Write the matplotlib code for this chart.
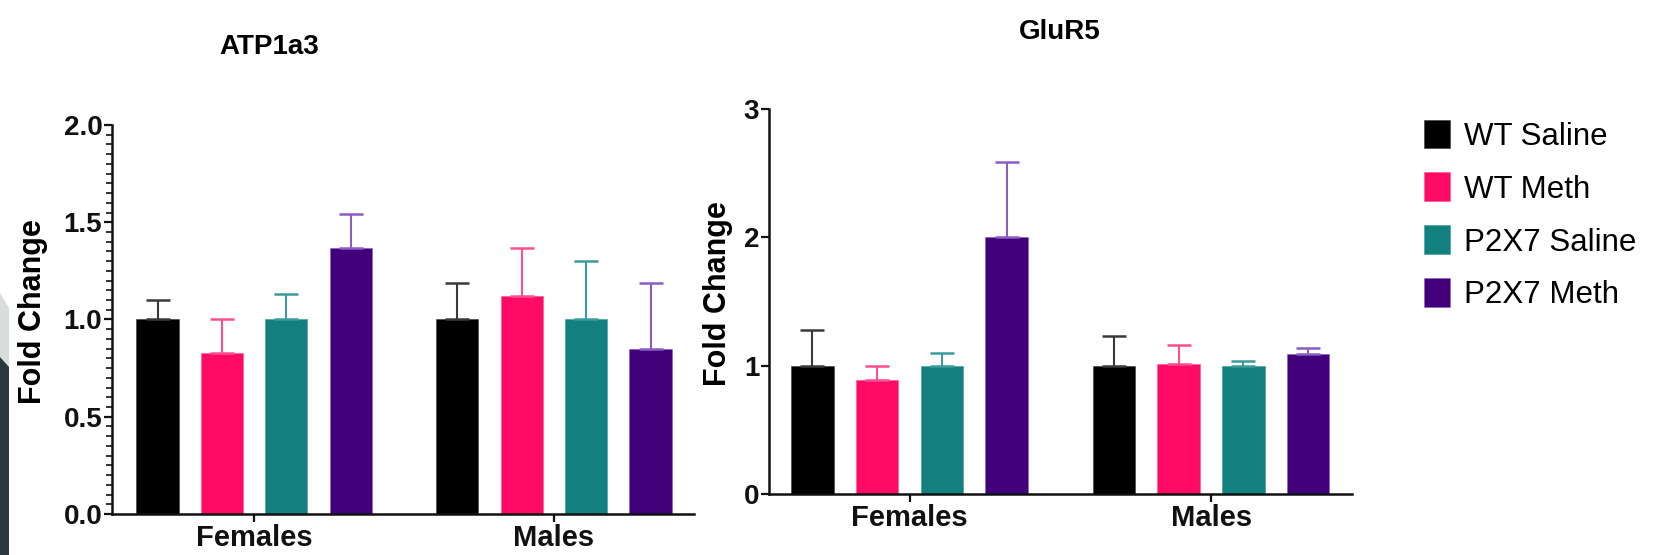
import matplotlib
matplotlib.use("Agg")
import matplotlib.pyplot as plt
from matplotlib.patches import Patch, Polygon
from matplotlib.ticker import MultipleLocator
import numpy as np

# -- Data -------------------------------------------------------------------
groups = ["Females", "Males"]
conditions = ["WT Saline", "WT Meth", "P2X7 Saline", "P2X7 Meth"]
bar_colors = ["#000000", "#ff0a64", "#11807f", "#41007a"]
err_colors = ["#3a3a3a", "#ff4f8e", "#3a9c9a", "#8a5cc4"]

atp_mean = [[1.00, 0.83, 1.00, 1.37],   # Females
            [1.00, 1.12, 1.00, 0.85]]   # Males
atp_top = [[1.10, 1.00, 1.13, 1.54],
           [1.19, 1.37, 1.30, 1.19]]

glu_mean = [[1.00, 0.89, 1.00, 2.00],
            [1.00, 1.01, 1.00, 1.09]]
glu_top = [[1.28, 1.00, 1.10, 2.59],
           [1.23, 1.16, 1.04, 1.14]]

FONT = ["Liberation Sans", "DejaVu Sans"]
plt.rcParams["font.family"] = FONT

fig = plt.figure(figsize=(16.54, 5.55), dpi=100)

group_pos = np.array([0.0, 4.655])
offsets = np.array([-1.5, -0.5, 0.5, 1.5])
width = 0.655


def draw_panel(ax, means, tops, ymax, yticks, ylabels, xlim, label_x, minor=None):
    for g in range(len(groups)):
        for c in range(len(conditions)):
            x = group_pos[g] + offsets[c]
            m = means[g][c]
            ax.bar(x, m, width=width, color=bar_colors[c],
                   edgecolor=err_colors[c], linewidth=0.4, zorder=2)
            ax.errorbar(x, m, yerr=[[0], [tops[g][c] - m]], fmt="none",
                        ecolor=err_colors[c], elinewidth=1.5, capsize=8.3,
                        capthick=1.8, zorder=3)
    ax.set_xlim(*xlim)
    ax.set_ylim(0, ymax)
    ax.set_yticks(yticks)
    ax.set_yticklabels(ylabels)
    if minor:
        ax.yaxis.set_minor_locator(MultipleLocator(minor))
    ax.set_xticks(group_pos)
    ax.set_xticklabels(groups)
    for s in ["top", "right"]:
        ax.spines[s].set_visible(False)
    for s in ["left", "bottom"]:
        ax.spines[s].set_linewidth(1.8)
        ax.spines[s].set_color("#111111")
    ax.tick_params(axis="both", which="major", length=6, width=1.6,
                   labelsize=20, pad=1, colors="#111111")
    ax.tick_params(axis="x", labelsize=21)
    ax.tick_params(axis="y", which="minor", length=4, width=1.2, colors="#111111")
    for lab in ax.get_xticklabels() + ax.get_yticklabels():
        lab.set_fontweight("bold")
    ax.set_ylabel("Fold Change", fontsize=22, fontweight="bold")
    ax.yaxis.set_label_coords(label_x, 0.52)


ax1 = fig.add_axes([0.0677, 0.0739, 0.3519, 0.7009])
draw_panel(ax1, atp_mean, atp_top, 2.0, [0, 0.5, 1.0, 1.5, 2.0],
           ["0.0", "0.5", "1.0", "1.5", "2.0"], (-2.207, 6.83), -0.11, minor=0.05)

ax2 = fig.add_axes([0.4649, 0.1099, 0.3525, 0.6937])
draw_panel(ax2, glu_mean, glu_top, 3.0, [0, 1, 2, 3],
           ["0", "1", "2", "3"], (-2.17, 6.83), -0.061)

fig.text(269 / 1654, 1 - 47 / 555, "ATP1a3", ha="center", va="center",
         fontsize=20, fontweight="bold")
fig.text(1060 / 1654, 1 - 32 / 555, "GluR5", ha="center", va="center",
         fontsize=20, fontweight="bold")

handles = [Patch(facecolor=bar_colors[i], edgecolor=err_colors[i], linewidth=0.4)
           for i in range(len(conditions))]
fig.legend(handles, conditions, loc="upper left",
           bbox_to_anchor=(1411 / 1654, 1 - 107 / 555), frameon=False,
           fontsize=22.5, handlelength=0.85, handleheight=1.05,
           handletextpad=0.45, labelspacing=0.665, borderaxespad=0)

# slide decoration at the left edge
fig.patches.append(Polygon([(0, 1 - 293 / 555), (9 / 1654, 1 - 308 / 555),
                            (9 / 1654, 1 - 367 / 555), (0, 1 - 357 / 555)],
                           closed=True, transform=fig.transFigure,
                           facecolor="#d8dcdc", edgecolor="none"))
fig.patches.append(Polygon([(0, 1 - 357 / 555), (9 / 1654, 1 - 367 / 555),
                            (9 / 1654, 0), (0, 0)],
                           closed=True, transform=fig.transFigure,
                           facecolor="#2b383d", edgecolor="none"))

plt.savefig("out.png", dpi=100)
plt.close()
